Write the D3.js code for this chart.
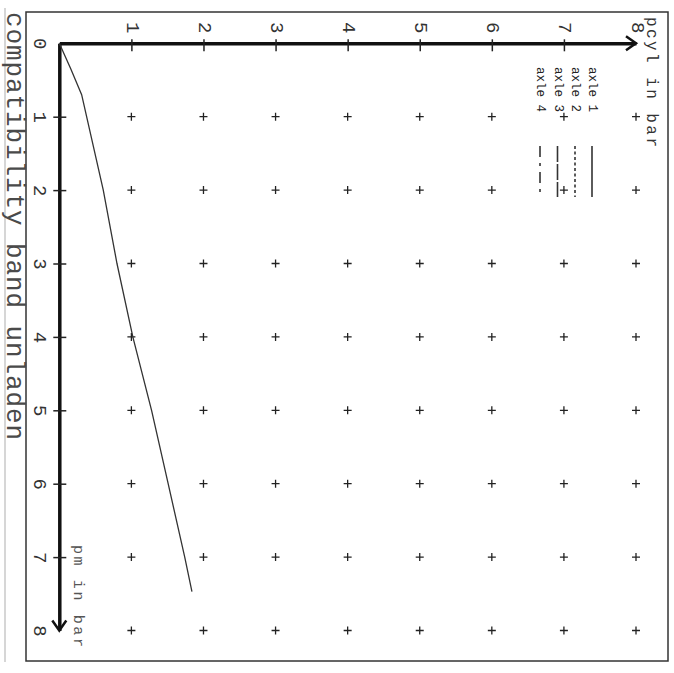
<!DOCTYPE html>
<html>
<head>
<meta charset="utf-8">
<script src="https://cdn.jsdelivr.net/npm/d3@7"></script>
<style>
  body { margin: 0; background: #fff; }
  svg text { font-family: "Liberation Mono", "DejaVu Sans Mono", monospace; fill: #222; }
</style>
</head>
<body>
<div id="chart"></div>
<script>
// compatibility band, unladen: cylinder pressure vs control line pressure
const pmValues = [0, 0.35, 0.7, 2, 3, 4, 5, 6, 7, 7.47];
const pcylValues = [0, 0.16, 0.31, 0.61, 0.8, 1.02, 1.28, 1.51, 1.74, 1.84];
const pcylTicks = [1, 2, 3, 4, 5, 6, 7, 8];
const pmTicks = [0, 1, 2, 3, 4, 5, 6, 7, 8];
const gridPcyl = [1, 2, 3, 4, 5, 6, 7, 8];
const gridPm = [1, 2, 3, 4, 5, 6, 7, 8];
const legendNames = ["axle 1", "axle 2", "axle 3", "axle 4"];
const titleText = "compatibility band unladen";
const pcylLabel = "pcyl in bar";
const pmLabel = "pm in bar";

const WIDTH = 674;
const HEIGHT = 673;
const X0 = 59.3;
const Y0 = 43.3;

const svg = d3
  .select("#chart")
  .append("svg")
  .attr("width", WIDTH)
  .attr("height", HEIGHT);

// the whole sheet is turned a quarter clockwise, so pcyl runs to the right and pm runs down
const xScale = d3.scaleLinear().domain([0, 8]).range([X0, 636]);
const yScale = d3.scaleLinear().domain([0, 8]).range([Y0, 630.5]);

function rotated(sel) {
  return sel
    .attr("text-anchor", "middle")
    .attr("dominant-baseline", "central");
}

// frame
svg.append("line")
  .attr("x1", 5).attr("x2", 5).attr("y1", 8).attr("y2", 662)
  .attr("stroke", "#c8c8c8").attr("stroke-width", 1.5);
svg.append("rect")
  .attr("x", 26).attr("y", 12).attr("width", 642).attr("height", 649)
  .attr("fill", "none").attr("stroke", "#333").attr("stroke-width", 1.5);

// title
svg.append("text")
  .attr("transform", "translate(6.5,12) rotate(90)")
  .style("font-size", "26px")
  .style("fill", "#4a4a4a")
  .attr("textLength", 428)
  .attr("lengthAdjust", "spacing")
  .text(titleText);

// grid crosses
const cells = [];
gridPcyl.forEach(c => gridPm.forEach(m => cells.push([c, m])));
svg.append("g")
  .selectAll("path")
  .data(cells)
  .enter()
  .append("path")
  .attr("d", d => {
    const x = xScale(d[0]), y = yScale(d[1]);
    return `M${x - 4},${y}H${x + 4}M${x},${y - 4}V${y + 4}`;
  })
  .attr("stroke", "#222")
  .attr("stroke-width", 1.3);

// pcyl axis (horizontal)
const xAxis = d3.axisTop(xScale).tickValues(pcylTicks).tickSize(0).tickFormat(d3.format("d"));
const gx = svg.append("g")
  .attr("transform", `translate(0,${Y0})`)
  .call(xAxis)
  .attr("font-family", null)
  .attr("font-size", null);
gx.select(".domain").attr("stroke", "#111").attr("stroke-width", 3.5);
gx.selectAll(".tick line")
  .attr("y1", -4).attr("y2", 8)
  .attr("stroke", "#222").attr("stroke-width", 1.5)
  .attr("opacity", d => (d === 8 ? 0 : 1));
rotated(gx.selectAll(".tick text"))
  .attr("x", 0).attr("y", 0).attr("dy", null)
  .attr("transform", "translate(0,-15.5) rotate(90)")
  .style("font-size", "19px")
  .style("fill", "#333");

// pm axis (vertical)
const yAxis = d3.axisLeft(yScale).tickValues(pmTicks).tickSize(0).tickFormat(d3.format("d"));
const gy = svg.append("g")
  .attr("transform", `translate(${X0},0)`)
  .call(yAxis)
  .attr("font-family", null)
  .attr("font-size", null);
gy.select(".domain").attr("stroke", "#111").attr("stroke-width", 3.5);
gy.selectAll(".tick line")
  .attr("x1", -6).attr("x2", 7)
  .attr("stroke", "#222").attr("stroke-width", 1.5)
  .attr("opacity", d => (d === 0 || d === 8 ? 0 : 1));
rotated(gy.selectAll(".tick text"))
  .attr("x", 0).attr("y", 0).attr("dy", null)
  .attr("transform", "translate(-20,0) rotate(90)")
  .style("font-size", "19px")
  .style("fill", "#333");

// arrow heads
const xEnd = xScale(8), yEnd = yScale(8);
svg.append("path")
  .attr("d", `M${xEnd - 10},${Y0 - 7}L${xEnd},${Y0}L${xEnd - 10},${Y0 + 7}`)
  .attr("fill", "none").attr("stroke", "#111").attr("stroke-width", 2.5);
svg.append("path")
  .attr("d", `M${X0 - 7},${yEnd - 10}L${X0},${yEnd}L${X0 + 7},${yEnd - 10}`)
  .attr("fill", "none").attr("stroke", "#111").attr("stroke-width", 2.5);

// axis names
svg.append("text")
  .attr("transform", `translate(651,17) rotate(90)`)
  .attr("dominant-baseline", "central")
  .style("font-size", "16px")
  .style("fill", "#333")
  .attr("textLength", 130)
  .attr("lengthAdjust", "spacing")
  .text(pcylLabel);
svg.append("text")
  .attr("transform", `translate(77,545) rotate(90)`)
  .attr("dominant-baseline", "central")
  .style("font-size", "15px")
  .style("fill", "#555")
  .attr("textLength", 102)
  .attr("lengthAdjust", "spacing")
  .text(pmLabel);

// legend
const legendX = [592, 575, 557.5, 540];
const legendDash = [null, "3,2.5", "16,2", "11,6,3,6"];
const legend = svg.append("g");
legendNames.forEach((name, i) => {
  legend.append("text")
    .attr("transform", `translate(${legendX[i]},67) rotate(90)`)
    .attr("dominant-baseline", "central")
    .style("font-size", "12.5px")
    .text(name);
  legend.append("line")
    .attr("x1", legendX[i]).attr("x2", legendX[i])
    .attr("y1", 146).attr("y2", 197)
    .attr("stroke", "#333").attr("stroke-width", 1.6)
    .attr("stroke-dasharray", legendDash[i]);
});

// band curve
const line = d3.line()
  .x((d, i) => xScale(pcylValues[i]))
  .y(d => yScale(d));
svg.append("path")
  .datum(pmValues)
  .attr("d", line)
  .attr("fill", "none")
  .attr("stroke", "#333")
  .attr("stroke-width", 1.3);
</script>
</body>
</html>
